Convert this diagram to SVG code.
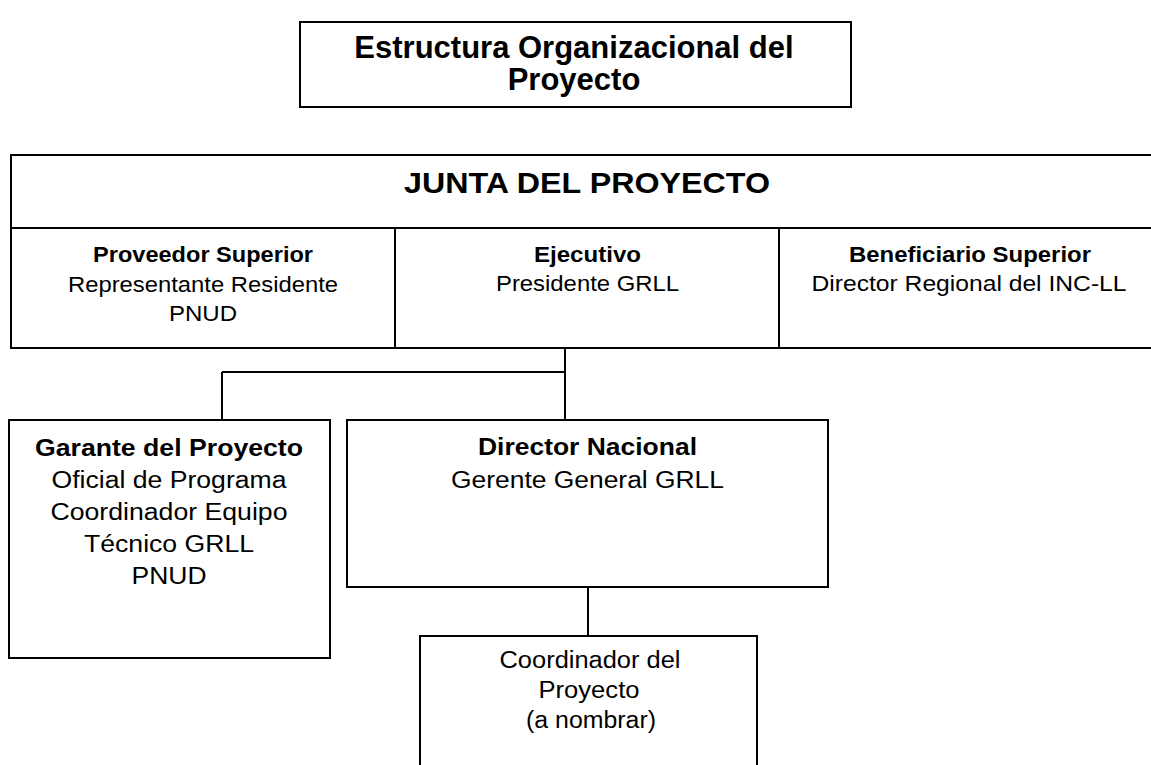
<svg xmlns="http://www.w3.org/2000/svg" width="1151" height="765" viewBox="0 0 1151 765">
<style>
.box{fill:#fff;stroke:#000;stroke-width:2}
.ln{fill:none;stroke:#000;stroke-width:2}
text{font-family:"Liberation Sans",Arial,sans-serif;fill:#000;text-anchor:middle}
.b{font-weight:bold}
.r{font-size:21.5px}
.g{font-size:23.5px}
</style>
<rect width="1151" height="765" fill="#fff"/>
<g id="title">
<rect class="box" x="300" y="22" width="551" height="85"/>
<text class="b" x="574" y="58" font-size="31">Estructura Organizacional del</text>
<text class="b" x="574" y="90" font-size="31">Proyecto</text>
</g>
<g id="junta">
<rect class="box" x="11" y="155" width="1145" height="193"/>
<line class="ln" x1="11" y1="228" x2="1151" y2="228"/>
<line class="ln" x1="395" y1="228" x2="395" y2="348"/>
<line class="ln" x1="779" y1="228" x2="779" y2="348"/>
<text class="b" x="587" y="193" font-size="30" textLength="366" lengthAdjust="spacingAndGlyphs">JUNTA DEL PROYECTO</text>
</g>
<g id="proveedor">
<text class="b r" x="203" y="262" textLength="220" lengthAdjust="spacingAndGlyphs">Proveedor Superior</text>
<text class="r" x="203" y="292" textLength="270" lengthAdjust="spacingAndGlyphs">Representante Residente</text>
<text class="r" x="203" y="321" textLength="68" lengthAdjust="spacingAndGlyphs">PNUD</text>
</g>
<g id="ejecutivo">
<text class="b r" x="587.5" y="262" textLength="107" lengthAdjust="spacingAndGlyphs">Ejecutivo</text>
<text class="r" x="587.5" y="291" textLength="183" lengthAdjust="spacingAndGlyphs">Presidente GRLL</text>
</g>
<g id="beneficiario">
<text class="b r" x="970" y="262" textLength="242" lengthAdjust="spacingAndGlyphs">Beneficiario Superior</text>
<text class="r" x="969" y="291" textLength="315" lengthAdjust="spacingAndGlyphs">Director Regional del INC-LL</text>
</g>
<g id="connectors">
<line class="ln" x1="565" y1="348" x2="565" y2="420"/>
<line class="ln" x1="222" y1="372" x2="565" y2="372"/>
<line class="ln" x1="222" y1="372" x2="222" y2="420"/>
<line class="ln" x1="588" y1="587" x2="588" y2="636"/>
</g>
<g id="garante">
<rect class="box" x="9" y="420" width="321" height="238"/>
<text class="b g" x="169" y="456" textLength="268" lengthAdjust="spacingAndGlyphs">Garante del Proyecto</text>
<text class="g" x="169" y="488" textLength="235" lengthAdjust="spacingAndGlyphs">Oficial de Programa</text>
<text class="g" x="169" y="520" textLength="237" lengthAdjust="spacingAndGlyphs">Coordinador Equipo</text>
<text class="g" x="169" y="552" textLength="170" lengthAdjust="spacingAndGlyphs">Técnico GRLL</text>
<text class="g" x="169" y="584" textLength="75" lengthAdjust="spacingAndGlyphs">PNUD</text>
</g>
<g id="director">
<rect class="box" x="347" y="420" width="481" height="167"/>
<text class="b g" x="587.5" y="455" textLength="219" lengthAdjust="spacingAndGlyphs">Director Nacional</text>
<text class="g" x="587.5" y="488" textLength="273" lengthAdjust="spacingAndGlyphs">Gerente General GRLL</text>
</g>
<g id="coordinador">
<rect class="box" x="420" y="636" width="337" height="140"/>
<text class="g" x="590" y="668" textLength="181" lengthAdjust="spacingAndGlyphs">Coordinador del</text>
<text class="g" x="589" y="698" textLength="101" lengthAdjust="spacingAndGlyphs">Proyecto</text>
<text class="g" x="591" y="728" textLength="130" lengthAdjust="spacingAndGlyphs">(a nombrar)</text>
</g>
</svg>
